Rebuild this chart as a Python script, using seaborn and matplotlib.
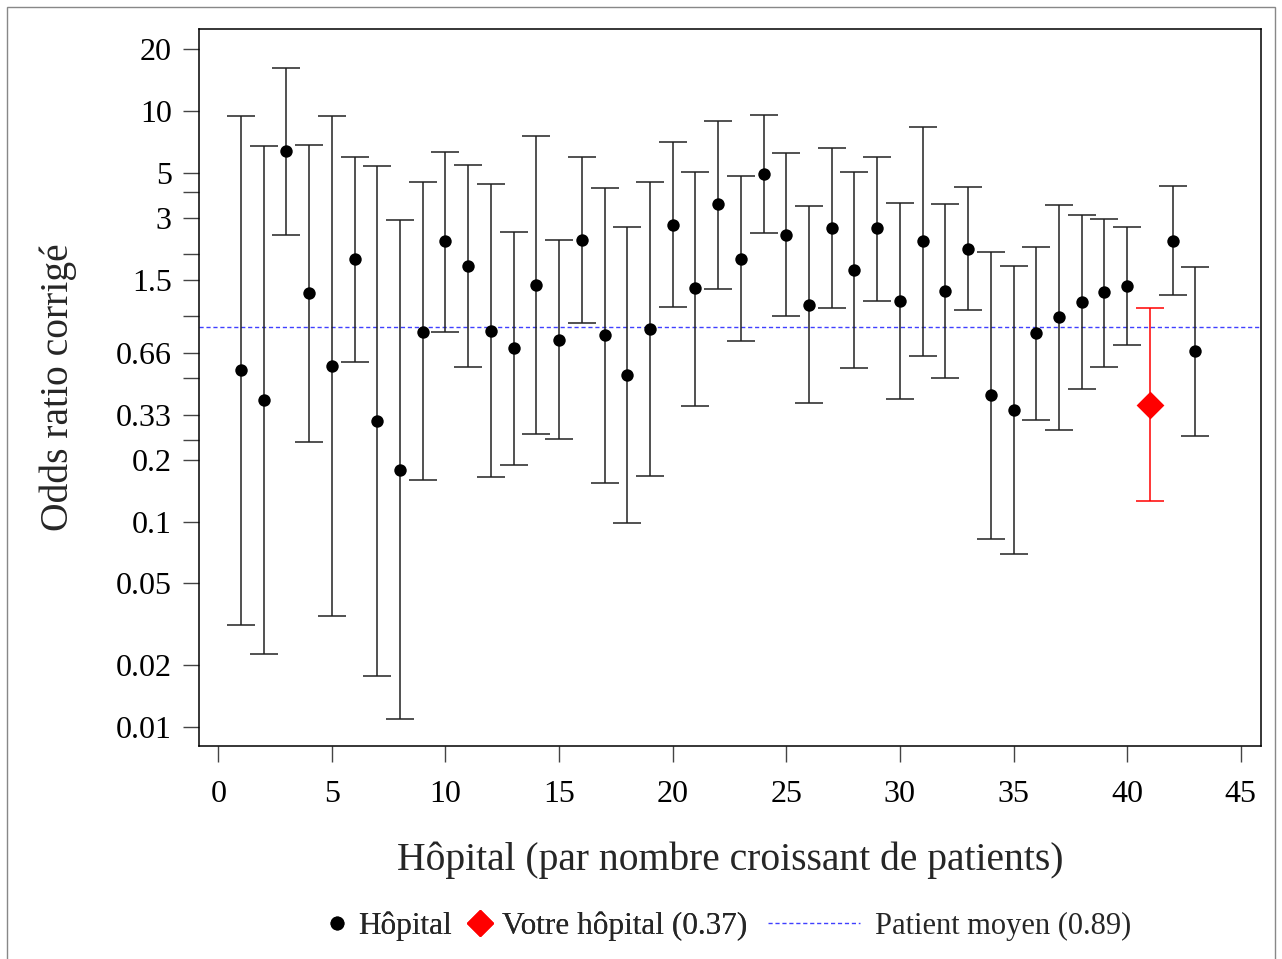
import numpy as np
import pandas as pd
import matplotlib
matplotlib.use('Agg')
import matplotlib.pyplot as plt
import seaborn as sns
from matplotlib.lines import Line2D
from matplotlib.patches import Rectangle
from matplotlib.ticker import FixedLocator, NullFormatter

# Odds ratios per hospital (ordered by number of patients) with 95% CI
hospital = np.arange(1, 44)
odds_ratio = [0.546, 0.390, 6.36, 1.296, 0.572, 1.887, 0.310, 0.179, 0.841, 2.31,
              1.746, 0.850, 0.696, 1.422, 0.767, 2.36, 0.807, 0.516, 0.863, 2.79,
              1.365, 3.50, 1.906, 4.91, 2.49, 1.134, 2.69, 1.685, 2.67, 1.187,
              2.31, 1.330, 2.12, 0.411, 0.351, 0.829, 0.987, 1.175, 1.303, 1.408,
              0.369, 2.33, 0.678]
ci_low = [0.0314, 0.0227, 2.49, 0.245, 0.0346, 0.599, 0.0176, 0.0109, 0.159, 0.841,
          0.563, 0.165, 0.188, 0.268, 0.252, 0.928, 0.154, 0.0978, 0.166, 1.105,
          0.367, 1.357, 0.755, 2.53, 0.997, 0.377, 1.099, 0.560, 1.181, 0.397,
          0.640, 0.500, 1.066, 0.0821, 0.0697, 0.313, 0.278, 0.440, 0.566, 0.721,
          0.126, 1.263, 0.2615]
ci_high = [9.45, 6.70, 16.2, 6.80, 9.45, 5.92, 5.39, 2.95, 4.48, 6.30,
           5.42, 4.39, 2.57, 7.50, 2.36, 5.98, 4.19, 2.71, 4.48, 7.01,
           5.04, 8.93, 4.79, 9.50, 6.20, 3.43, 6.56, 5.04, 5.95, 3.56,
           8.31, 3.52, 4.23, 2.06, 1.756, 2.17, 3.48, 3.09, 2.98, 2.72,
           1.094, 4.30, 1.739]
your_hospital = 41
mean_patient = 0.89

y_ticks = [0.01, 0.02, 0.05, 0.1, 0.2, 0.33, 0.66, 1.5, 3, 5, 10, 20]
y_tick_labels = ['0.01', '0.02', '0.05', '0.1', '0.2', '0.33', '0.66', '1.5', '3', '5', '10', '20']
y_minor = [0.25, 0.5, 1, 2, 4]
x_ticks = [0, 5, 10, 15, 20, 25, 30, 35, 40, 45]

df = pd.DataFrame({'hospital': hospital, 'odds': odds_ratio,
                   'low': ci_low, 'high': ci_high})
others = df[df.hospital != your_hospital]
mine = df[df.hospital == your_hospital]

sns.set_style('ticks')
plt.rcParams['font.family'] = ['Liberation Serif', 'DejaVu Serif']

fig = plt.figure(figsize=(12.82, 9.59), dpi=100)
ax = fig.add_axes([0.1552, 0.2224, 0.8284, 0.7474])

# error bars
ax.errorbar(others.hospital, others.odds,
            yerr=[others.odds - others.low, others.high - others.odds],
            fmt='none', ecolor='#222222', elinewidth=1.1, capsize=10, capthick=1.1)
ax.errorbar(mine.hospital, mine.odds,
            yerr=[mine.odds - mine.low, mine.high - mine.odds],
            fmt='none', ecolor='red', elinewidth=1.1, capsize=10, capthick=1.1)

# points
sns.scatterplot(data=others, x='hospital', y='odds', color='black', s=80,
                linewidth=0, ax=ax, zorder=3)
sns.scatterplot(data=mine, x='hospital', y='odds', color='red', marker='D', s=200,
                linewidth=0, ax=ax, zorder=3)

ax.axhline(mean_patient, color='#4040ff', lw=1, ls=(0, (3, 2)), zorder=1)

ax.set_yscale('log')
ax.set_ylim(0.0081, 25)
ax.set_xlim(-0.85, 45.89)
ax.yaxis.set_major_locator(FixedLocator(y_ticks))
ax.set_yticklabels(y_tick_labels)
ax.yaxis.set_minor_locator(FixedLocator(y_minor))
ax.yaxis.set_minor_formatter(NullFormatter())
ax.set_xticks(x_ticks)

ax.tick_params(axis='both', which='both', direction='out', length=11.5, width=1,
               color='#444444', labelsize=23, labelcolor='black')
ax.tick_params(axis='y', which='both', pad=8)
ax.tick_params(axis='x', pad=13)

for s in ax.spines.values():
    s.set_visible(True)
    s.set_color('black')
    s.set_linewidth(1.1)

ax.set_xlabel('Hôpital (par nombre croissant de patients)', fontsize=28.5)
ax.set_ylabel('Odds ratio corrigé', fontsize=28.5)
ax.xaxis.set_label_coords(0.5, -0.133)
ax.yaxis.set_label_coords(-0.115, 0.5)

# legend
h1 = [Line2D([], [], marker='o', ls='none', color='black', markersize=9),
      Line2D([], [], marker='D', ls='none', color='red', markersize=13)]
leg1 = fig.legend(h1, ['Hôpital', 'Votre hôpital (0.37)'], ncol=2, frameon=False,
                  fontsize=22.5, loc='center right', bbox_to_anchor=(0.583, 0.034),
                  handlelength=0.8, handletextpad=0.3, columnspacing=0.5,
                  borderpad=0, borderaxespad=0)
h2 = [Line2D([], [], color='#4040ff', lw=1, ls=(0, (3, 2)))]
leg2 = fig.legend(h2, ['Patient moyen (0.89)'], frameon=False, fontsize=22,
                  loc='center left', bbox_to_anchor=(0.599, 0.034),
                  handlelength=3.0, handletextpad=0.5, borderpad=0, borderaxespad=0)
fig.add_artist(leg1)

# outer frame
fig.add_artist(Rectangle((0.0055, -0.01), 0.989, 1.0027, transform=fig.transFigure,
                         fill=False, edgecolor='#888888', lw=1))

fig.savefig('out.png', dpi=100)
